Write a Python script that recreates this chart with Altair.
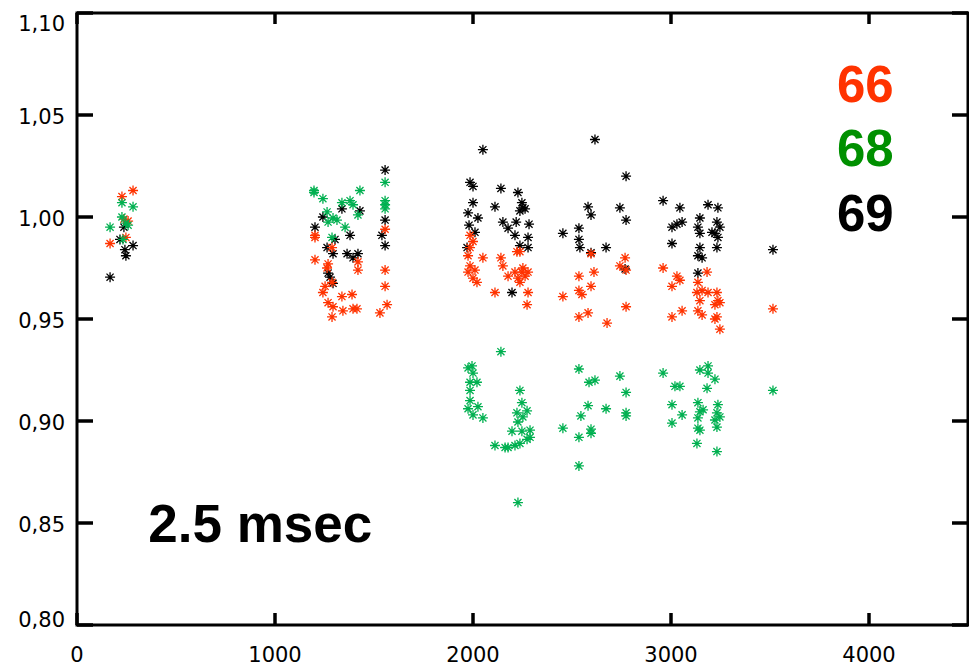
import altair as alt
import pandas as pd

# ---- data ----
X_TICKS = [0, 1000, 2000, 3000, 4000]
Y_TICKS = [0.80, 0.85, 0.90, 0.95, 1.00, 1.05, 1.10]

SERIES = ["69", "66", "68"]
MARKER_COLORS = ["#000000", "#FF3300", "#00B050"]

s66 = [(167,0.987),(227,1.010),(237,0.999),(258,0.998),(247,0.990),(283,1.013),
       (1202,0.991),(1202,0.990),(1202,0.979),(1268,0.977),(1263,0.975),(1288,0.985),(1253,0.966),(1242,0.963),
       (1268,0.958),(1293,0.956),(1338,0.961),(1389,0.962),(1288,0.951),(1343,0.954),(1394,0.955),(1414,0.955),
       (1419,0.978),(1419,0.974),(1556,0.994),(1556,0.974),(1556,0.966),(1566,0.957),(1530,0.953),(1288,0.968),
       (1985,0.991),(2000,0.988),(1985,0.985),(1975,0.981),(2050,0.980),(1985,0.976),(1975,0.973),(2000,0.970),
       (2020,0.968),(2141,0.980),(2151,0.976),(2177,0.971),(2222,0.983),(2237,0.983),(2212,0.973),(2247,0.973),
       (2263,0.971),(2237,0.968),(2278,0.973),(2111,0.963),(2278,0.963),(2273,0.957),(2010,0.974),(2252,0.975),(2227,0.970),
       (2596,0.982),(2742,0.976),(2768,0.980),(2773,0.974),(2535,0.971),(2611,0.973),(2535,0.964),(2596,0.966),
       (2550,0.962),(2454,0.961),(2535,0.951),(2581,0.953),(2677,0.948),(2773,0.956),
       (2960,0.975),(3030,0.971),(3045,0.969),(3005,0.966),(3182,0.973),(3136,0.968),(3157,0.964),(3131,0.963),
       (3187,0.963),(3232,0.963),(3146,0.959),(3237,0.959),(3222,0.957),(3247,0.958),(3136,0.954),(3157,0.952),
       (3056,0.954),(3005,0.951),(3232,0.951),(3222,0.950),(3247,0.945),(3515,0.955)]

s68 = [(167,0.995),(227,1.007),(227,1.000),(258,0.996),(232,0.989),(283,1.005),(247,0.997),
       (1197,1.013),(1197,1.012),(1242,1.009),(1338,1.007),(1379,1.008),(1429,1.013),(1419,1.001),(1293,0.9995),
       (1268,0.9975),(1313,0.9985),(1354,0.995),(1288,0.990),(1556,1.017),(1556,1.008),(1556,1.006),(1556,1.004),
       (1394,1.006),(1263,1.0025),
       (2141,0.934),(1975,0.926),(1995,0.927),(2000,0.9235),(1985,0.919),(2020,0.919),(1985,0.915),(1985,0.910),
       (1975,0.906),(2025,0.907),(2000,0.903),(2050,0.9015),(2237,0.915),(2247,0.909),(2222,0.904),(2273,0.905),
       (2227,0.8995),(2252,0.902),(2197,0.895),(2247,0.895),(2288,0.8955),(2288,0.892),(2273,0.891),(2237,0.889),
       (2111,0.888),(2162,0.887),(2177,0.887),(2212,0.888),(2227,0.860),
       (2535,0.9255),(2586,0.919),(2616,0.920),(2742,0.922),(2773,0.914),(2581,0.9075),(2672,0.906),(2545,0.9025),
       (2454,0.8965),(2535,0.892),(2596,0.896),(2596,0.894),(2535,0.878),(2773,0.904),(2773,0.9025),
       (2960,0.9235),(3020,0.917),(3045,0.917),(3146,0.925),(3187,0.927),(3187,0.9235),(3222,0.9205),(3182,0.916),
       (3005,0.908),(3056,0.903),(3005,0.899),(3136,0.909),(3146,0.9045),(3136,0.9015),(3162,0.9055),(3237,0.908),
       (3232,0.904),(3247,0.902),(3222,0.9005),(3232,0.897),(3136,0.8965),(3146,0.8955),(3131,0.889),(3232,0.885),
       (3515,0.915)]

s69 = [(167,0.9705),(217,0.989),(247,0.981),(237,0.995),(283,0.986),(242,0.984),
       (1202,0.995),(1242,1.000),(1338,1.004),(1429,1.003),(1379,0.991),(1263,0.985),(1293,0.982),(1364,0.982),
       (1394,0.980),(1419,0.982),(1268,0.9725),(1278,0.9705),(1293,0.9675),(1556,1.023),(1556,0.9985),(1540,0.991),
       (1556,0.986),(1303,0.989),
       (2050,1.033),(1985,1.017),(2000,1.015),(2141,1.014),(2227,1.012),(2247,1.007),(2252,1.0045),(2000,1.007),
       (1975,1.002),(2025,0.9995),(2111,1.005),(1980,0.996),(2010,0.9925),(2151,0.9975),(2177,0.9945),(2218,0.9975),
       (2283,0.9965),(2212,0.991),(2278,0.990),(2237,0.986),(2278,0.985),(1970,0.985),(2197,0.963),(2263,1.004),(2237,1.003),
       (2616,1.038),(2773,1.020),(2581,1.005),(2596,1.001),(2742,1.0045),(2773,0.9985),(2535,0.9945),(2535,0.989),
       (2540,0.985),(2454,0.992),(2672,0.985),(2596,0.9825),(2768,0.9745),
       (2960,1.008),(3045,1.0045),(3005,0.995),(3030,0.9965),(3056,0.9975),(3005,0.987),(3187,1.006),(3237,1.0045),
       (3146,0.9995),(3136,0.995),(3146,0.992),(3232,0.9975),(3247,0.995),(3222,0.992),(3237,0.990),(3232,0.985),
       (3146,0.985),(3136,0.981),(3157,0.980),(3136,0.9725),(3515,0.984),(3207,0.9925)]

LABEL_TEXT = ["66", "68", "69"]
LABEL_COLORS = ["#FF3300", "#009000", "#000000"]
LABEL_X = [3838, 3838, 3838]
LABEL_Y = [1.0564, 1.0250, 0.9931]

NOTE_TEXT = ["2.5 msec"]
NOTE_X = [360]
NOTE_Y = [0.8407]

# ---- build tables ----
rows = []
for name, pts in [("69", s69), ("66", s66), ("68", s68)]:
    for x, y in pts:
        rows.append({"t": x, "r": y, "s": name})
df = pd.DataFrame(rows)

W, H = 891, 612
XMIN, XMAX, YMIN, YMAX = 0, 4500, 0.80, 1.10
xs = alt.Scale(domain=[XMIN, XMAX], nice=False, zero=False)
ys = alt.Scale(domain=[YMIN, YMAX], nice=False, zero=False)
PX_X = (XMAX - XMIN) / W
PX_Y = (YMAX - YMIN) / H

ASTERISK = "M-1,0L1,0M0,-1L0,1M-0.71,-0.71L0.71,0.71M-0.71,0.71L0.71,-0.71"

points = alt.Chart(df).mark_point(
    shape=ASTERISK, size=100, filled=False, strokeWidth=1.3, opacity=1
).encode(
    x=alt.X("t:Q", scale=xs, axis=None),
    y=alt.Y("r:Q", scale=ys, axis=None),
    color=alt.Color("s:N", scale=alt.Scale(domain=SERIES, range=MARKER_COLORS), legend=None),
)

yt = pd.DataFrame({"v": Y_TICKS})
xt = pd.DataFrame({"v": X_TICKS})

# tick labels
TICK_FONT = dict(font="DejaVu Sans", fontSize=21, color="black", baseline="alphabetic")
xlab = alt.Chart(xt).mark_text(align="center", **TICK_FONT).encode(
    x=alt.X("v:Q", scale=xs, axis=None), y=alt.value(H + 37),
    text=alt.Text("v:Q", format="d"))

ylab_base = alt.Chart(yt).transform_calculate(
    lab="replace(format(datum.v, '.2f'), '.', ',')")
ylab_mid = ylab_base.transform_filter("datum.v > 0.801 && datum.v < 1.099").mark_text(
    align="right", dx=-12, dy=9, **TICK_FONT).encode(
    y=alt.Y("v:Q", scale=ys, axis=None), x=alt.value(0), text="lab:N")
ylab_top = ylab_base.transform_filter("datum.v >= 1.099").mark_text(
    align="right", dx=-12, dy=18, **TICK_FONT).encode(
    y=alt.Y("v:Q", scale=ys, axis=None), x=alt.value(0), text="lab:N")
ylab_bot = ylab_base.transform_filter("datum.v <= 0.801").mark_text(
    align="right", dx=-12, dy=2, **TICK_FONT).encode(
    y=alt.Y("v:Q", scale=ys, axis=None), x=alt.value(0), text="lab:N")

lab_df = pd.DataFrame({"x": LABEL_X, "y": LABEL_Y, "text": LABEL_TEXT, "c": LABEL_COLORS})
labels = alt.Chart(lab_df).mark_text(
    font="Liberation Sans", fontWeight="bold", fontSize=51, align="left", baseline="alphabetic"
).encode(
    x=alt.X("x:Q", scale=xs, axis=None), y=alt.Y("y:Q", scale=ys, axis=None),
    text="text:N", color=alt.Color("c:N", scale=None))

note_df = pd.DataFrame({"x": NOTE_X, "y": NOTE_Y, "text": NOTE_TEXT})
note = alt.Chart(note_df).mark_text(
    font="Liberation Sans", fontWeight="bold", fontSize=53, align="left", baseline="alphabetic", color="black"
).encode(
    x=alt.X("x:Q", scale=xs, axis=None), y=alt.Y("y:Q", scale=ys, axis=None), text="text:N")

# inward ticks on all four sides: rules (as in the first, working version) ...
tick_left = alt.Chart(yt).mark_rule(color="black", strokeWidth=3).encode(
    y=alt.Y("v:Q", scale=ys, axis=None), x=alt.value(0), x2=alt.value(16))
tick_right = alt.Chart(yt).mark_rule(color="black", strokeWidth=3).encode(
    y=alt.Y("v:Q", scale=ys, axis=None), x=alt.value(W - 16), x2=alt.value(W))
tick_bottom = alt.Chart(xt).mark_rule(color="black", strokeWidth=3).encode(
    x=alt.X("v:Q", scale=xs, axis=None), y=alt.value(H - 12), y2=alt.value(H))
tick_top = alt.Chart(xt).mark_rule(color="black", strokeWidth=3).encode(
    x=alt.X("v:Q", scale=xs, axis=None), y=alt.value(0), y2=alt.value(11))

# ... and the same ticks as thin rectangles (identical geometry)
rect_left = alt.Chart(yt).transform_calculate(
    a=f"datum.v - {1.5 * PX_Y}", b=f"datum.v + {1.5 * PX_Y}"
).mark_rect(color="black", opacity=1).encode(
    y=alt.Y("a:Q", scale=ys, axis=None), y2="b:Q", x=alt.value(0), x2=alt.value(16))
rect_right = alt.Chart(yt).transform_calculate(
    a=f"datum.v - {1.5 * PX_Y}", b=f"datum.v + {1.5 * PX_Y}"
).mark_rect(color="black", opacity=1).encode(
    y=alt.Y("a:Q", scale=ys, axis=None), y2="b:Q", x=alt.value(W - 16), x2=alt.value(W))
rect_bottom = alt.Chart(xt).transform_calculate(
    a=f"datum.v - {1.5 * PX_X}", b=f"datum.v + {1.5 * PX_X}"
).mark_rect(color="black", opacity=1).encode(
    x=alt.X("a:Q", scale=xs, axis=None), x2="b:Q", y=alt.value(H - 12), y2=alt.value(H))
rect_top = alt.Chart(xt).transform_calculate(
    a=f"datum.v - {1.5 * PX_X}", b=f"datum.v + {1.5 * PX_X}"
).mark_rect(color="black", opacity=1).encode(
    x=alt.X("a:Q", scale=xs, axis=None), x2="b:Q", y=alt.value(0), y2=alt.value(11))

chart = alt.layer(
    points, xlab, ylab_mid, ylab_top, ylab_bot, labels, note,
    tick_left, tick_right, tick_bottom, tick_top,
    rect_left, rect_right, rect_bottom, rect_top,
).properties(
    width=W, height=H,
    autosize=alt.AutoSizeParams(type="none"),
    padding={"left": 77, "top": 13, "right": 1, "bottom": 41},
    background="white",
).configure_view(stroke="black", strokeWidth=3)

chart.save("out.html", embed_options={"renderer": "svg", "actions": False})
